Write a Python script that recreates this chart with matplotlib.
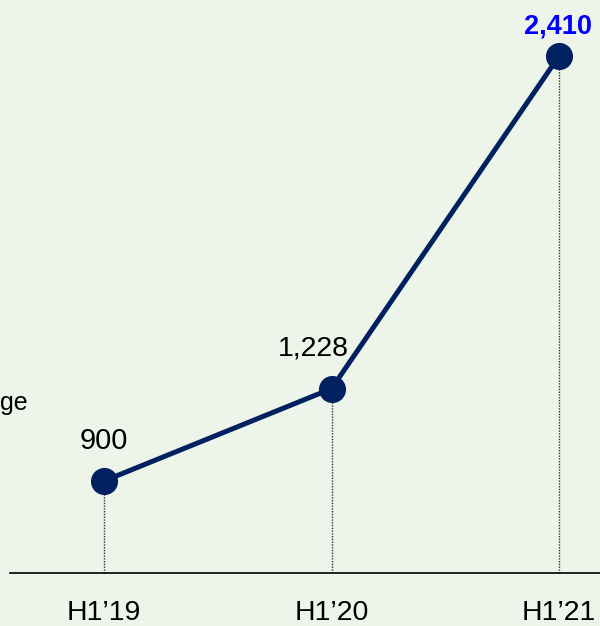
import matplotlib
matplotlib.use("Agg")
import matplotlib.pyplot as plt
from matplotlib import font_manager as fm

periods = ["H1\u201919", "H1\u201920", "H1\u201921"]
values = [900, 1228, 2410]
value_labels = ["900", "1,228", "2,410"]
side_text = "ge"

names = {f.name for f in fm.fontManager.ttflist}
family = "Liberation Sans Narrow" if "Liberation Sans Narrow" in names else "Liberation Sans"
plt.rcParams["font.family"] = [family, "DejaVu Sans"]

bg = "#EDF5EA"
navy = "#002060"
W, H = 600, 626
fig = plt.figure(figsize=(W / 100, H / 100), dpi=100, facecolor=bg)
base_px = 573
ax = fig.add_axes([10 / W, (H - base_px) / H, (W - 10) / W, base_px / H])
ax.set_facecolor(bg)

x = list(range(len(values)))
ax.set_xlim(-0.413, 2.18)
ax.set_ylim(573, 2609)

for xi, v in zip(x, values):
    ax.plot([xi, xi], [573, v], linestyle=(0, (1, 1)), color="#333333", lw=1.0, zorder=1)

ax.plot(x, values, color=navy, lw=3.6, marker="o", markersize=18.5,
        markerfacecolor=navy, markeredgecolor=navy, zorder=3, solid_capstyle="round")

offsets = [(0, 23), (-13, 24), (-1, 16.5)]
sizes = [21, 20.5, 19.5]
for i, (xi, v, lab) in enumerate(zip(x, values, value_labels)):
    last = i == len(values) - 1
    ax.annotate(lab, (xi, v), xytext=offsets[i], textcoords="offset points",
                ha="center", va="baseline", fontsize=sizes[i],
                color="#0000FF" if last else "black",
                fontweight="bold" if last else "normal")

for s in ["top", "right", "left"]:
    ax.spines[s].set_visible(False)
ax.spines["bottom"].set_color("black")
ax.spines["bottom"].set_linewidth(1.2)
ax.set_yticks([])
ax.set_xticks(x)
ax.set_xticklabels(periods, fontsize=20.5)
ax.tick_params(axis="x", length=0, pad=19.5)

fig.text(0, 1 - 410 / H, side_text, fontsize=18, ha="left", va="baseline")

fig.savefig("out.png", dpi=100, facecolor=bg)
